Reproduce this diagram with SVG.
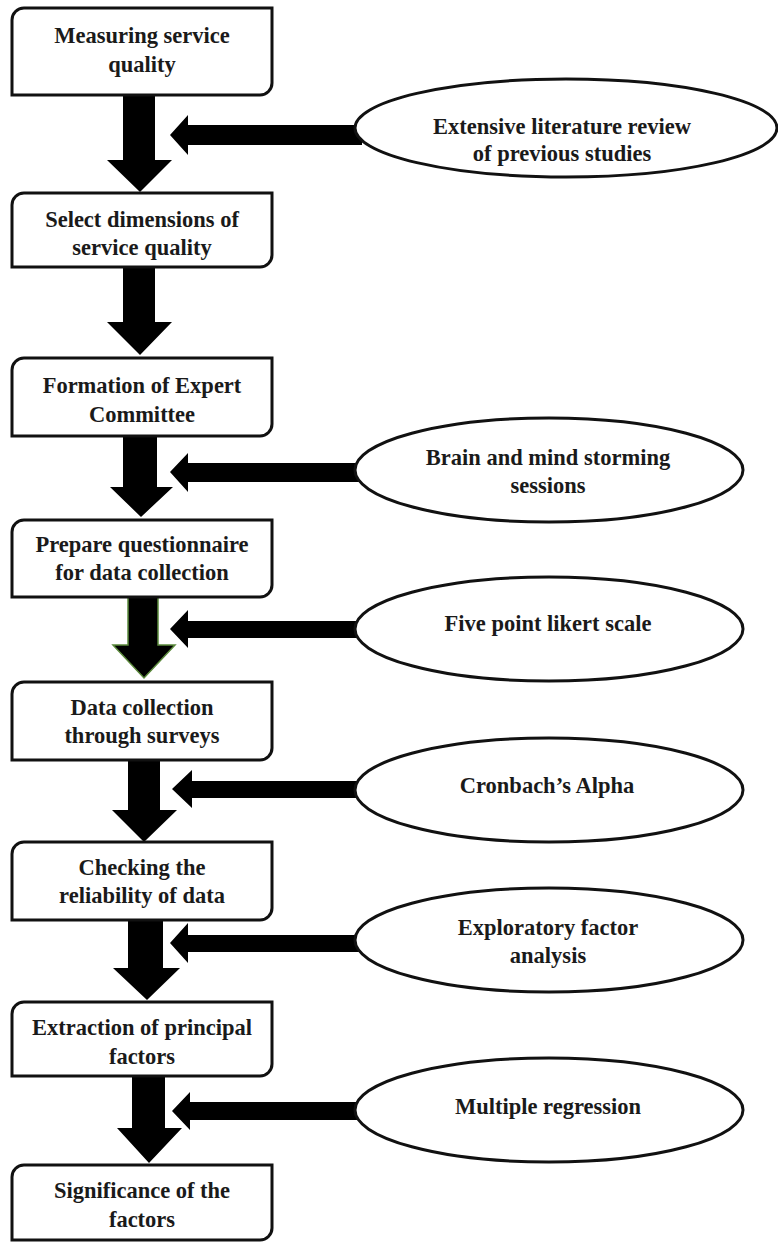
<svg xmlns="http://www.w3.org/2000/svg" width="778" height="1242" viewBox="0 0 778 1242">
<style>
.box{fill:#fff;stroke:#111;stroke-width:3}
.ell{fill:#fff;stroke:#111;stroke-width:3}
.arr{fill:#000}
.t{font-family:"Liberation Serif","Times New Roman",serif;font-weight:bold;font-size:22.5px;fill:#1a1a1a;text-anchor:middle}
</style>
<rect width="778" height="1242" fill="#fff"/>
<g id="connectors">
<polygon class="arr" points="123,96 155,96 155,160 172,160 140,192 107,160 123,160"/>
<polygon class="arr" points="123,268 155,268 155,322 172,322 140,355 107,322 123,322"/>
<polygon class="arr" points="123,436 157,436 157,487 173,487 141,517 110,487 123,487"/>
<polygon class="arr" points="128,597 158,597 158,645 175,645 144,678 113,645 128,645" stroke="#5b8a3c" stroke-width="1.5"/>
<polygon class="arr" points="128,760 160,760 160,810 177,810 144,842 112,810 128,810"/>
<polygon class="arr" points="128,920 163,920 163,968 180,968 147,1000 113,968 128,968"/>
<polygon class="arr" points="132,1076 165,1076 165,1128 182,1128 149,1163 117,1128 132,1128"/>
<polygon class="arr" points="170,135 188,115 188,125 362,125 362,145 188,145 188,155"/>
<polygon class="arr" points="170,472 188,453 188,463 362,463 362,482 188,482 188,492"/>
<polygon class="arr" points="170,629 188,610 188,621 362,621 362,638 188,638 188,648"/>
<polygon class="arr" points="172,789 192,770 192,781 362,781 362,798 192,798 192,808"/>
<polygon class="arr" points="170,943 188,923 188,935 362,935 362,952 188,952 188,963"/>
<polygon class="arr" points="172,1111 190,1092 190,1102 362,1102 362,1120 190,1120 190,1130"/>
</g>
<g id="n1"><path class="box" d="M12,20 A12,12 0 0 1 24,8 H272 V83 A12,12 0 0 1 260,95 H12 Z"/><text class="t" x="142" y="43">Measuring service</text><text class="t" x="142" y="72">quality</text></g>
<g id="n2"><path class="box" d="M12,205 A12,12 0 0 1 24,193 H272 V255 A12,12 0 0 1 260,267 H12 Z"/><text class="t" x="142" y="227">Select dimensions of</text><text class="t" x="142" y="255">service quality</text></g>
<g id="n3"><path class="box" d="M12,370 A12,12 0 0 1 24,358 H272 V424 A12,12 0 0 1 260,436 H12 Z"/><text class="t" x="142" y="393">Formation of Expert</text><text class="t" x="142" y="422">Committee</text></g>
<g id="n4"><path class="box" d="M12,532 A12,12 0 0 1 24,520 H272 V585 A12,12 0 0 1 260,597 H12 Z"/><text class="t" x="142" y="552">Prepare questionnaire</text><text class="t" x="142" y="580">for data collection</text></g>
<g id="n5"><path class="box" d="M12,694 A12,12 0 0 1 24,682 H272 V748 A12,12 0 0 1 260,760 H12 Z"/><text class="t" x="142" y="715">Data collection</text><text class="t" x="142" y="743">through surveys</text></g>
<g id="n6"><path class="box" d="M12,854 A12,12 0 0 1 24,842 H272 V908 A12,12 0 0 1 260,920 H12 Z"/><text class="t" x="142" y="875">Checking the</text><text class="t" x="142" y="903">reliability of data</text></g>
<g id="n7"><path class="box" d="M12,1014 A12,12 0 0 1 24,1002 H272 V1064 A12,12 0 0 1 260,1076 H12 Z"/><text class="t" x="142" y="1035">Extraction of principal</text><text class="t" x="142" y="1064">factors</text></g>
<g id="n8"><path class="box" d="M12,1177 A12,12 0 0 1 24,1165 H272 V1228 A12,12 0 0 1 260,1240 H12 Z"/><text class="t" x="142" y="1198">Significance of the</text><text class="t" x="142" y="1227">factors</text></g>
<g id="e1"><ellipse class="ell" cx="566" cy="128" rx="211" ry="49"/><text class="t" x="562" y="134">Extensive literature review</text><text class="t" x="562" y="161">of previous studies</text></g>
<g id="e2"><ellipse class="ell" cx="549" cy="470" rx="194" ry="52"/><text class="t" x="548" y="465">Brain and mind storming</text><text class="t" x="548" y="493">sessions</text></g>
<g id="e3"><ellipse class="ell" cx="549" cy="629" rx="194" ry="52"/><text class="t" x="548" y="631">Five point likert scale</text></g>
<g id="e4"><ellipse class="ell" cx="549" cy="790" rx="194" ry="52"/><text class="t" x="547" y="793">Cronbach’s Alpha</text></g>
<g id="e5"><ellipse class="ell" cx="549" cy="940" rx="194" ry="52"/><text class="t" x="548" y="935">Exploratory factor</text><text class="t" x="548" y="963">analysis</text></g>
<g id="e6"><ellipse class="ell" cx="549" cy="1110" rx="194" ry="52"/><text class="t" x="548" y="1114">Multiple regression</text></g>
</svg>
